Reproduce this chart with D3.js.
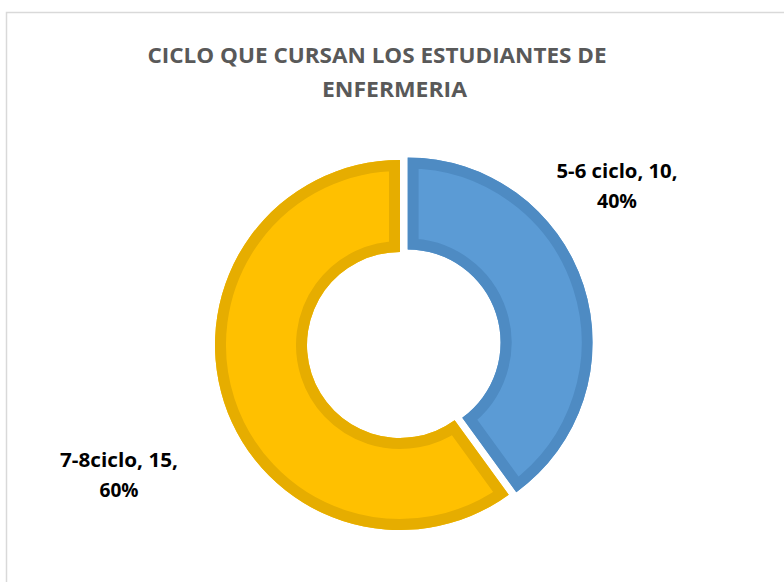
<!DOCTYPE html>
<html>
<head>
<meta charset="utf-8">
<script src="https://cdn.jsdelivr.net/npm/d3@7"></script>
<style>
  html, body { margin: 0; padding: 0; background: #fff; }
  svg { display: block; }
</style>
</head>
<body>
<svg id="chart" width="784" height="582"></svg>
<script>
// ---- data ----
const categories = ["5-6 ciclo", "7-8ciclo"];
const values = [10, 15];
const titleLines = ["CICLO QUE CURSAN LOS ESTUDIANTES DE", "ENFERMERIA"];

// ---- styles ----
const fills = ["#5B9BD5", "#FFC000"];
const strokes = ["#4E8BC3", "#E6AD00"];
const explode = [8, 0];

const svg = d3.select("#chart");
const W = 784, H = 582;
svg.append("rect").attr("width", W).attr("height", H).attr("fill", "#fff");
// chart frame
svg.append("rect").attr("x", 6.5).attr("y", 12.5).attr("width", 820).attr("height", 620)
  .attr("fill", "none").attr("stroke", "#D9D9D9").attr("stroke-width", 1.5);

// title
const title = svg.append("g").attr("font-family", "'Open Sans', sans-serif")
  .attr("font-weight", 700).attr("font-size", 22).attr("fill", "#595959");
const titlePos = [{x: 377, y: 63, w: 459}, {x: 394.5, y: 97, w: 145}];
titleLines.forEach((t, i) => {
  title.append("text").attr("x", titlePos[i].x).attr("y", titlePos[i].y)
    .attr("text-anchor", "middle")
    .attr("textLength", titlePos[i].w).attr("lengthAdjust", "spacingAndGlyphs")
    .text(t);
});

// donut
const cx = 400, cy = 345, R = 185, r = 93;
const pie = d3.pie().sort(null).value(d => d)(values);
const arc = d3.arc().innerRadius(r).outerRadius(R);
const g = svg.append("g").attr("transform", `translate(${cx},${cy})`);
const defs = svg.append("defs");
const total = d3.sum(values);

pie.forEach((p, i) => {
  const mid = (p.startAngle + p.endAngle) / 2;
  const dx = Math.sin(mid) * explode[i], dy = -Math.cos(mid) * explode[i];
  const sg = g.append("g").attr("transform", `translate(${dx},${dy})`);
  const d = arc(p);
  defs.append("clipPath").attr("id", "clip" + i).append("path").attr("d", d);
  sg.append("path").attr("d", d).attr("fill", fills[i]);
  sg.append("path").attr("d", d)
    .attr("fill", "none").attr("stroke", strokes[i]).attr("stroke-width", 22)
    .attr("stroke-linejoin", "miter")
    .attr("clip-path", `url(#clip${i})`);
});

// data labels
const labelPos = [
  {x: 617, y1: 178, y2: 208, w1: 121, w2: 40},
  {x: 119, y1: 467, y2: 497, w1: 118, w2: 39}
];
const lg = svg.append("g").attr("font-family", "'Open Sans', sans-serif")
  .attr("font-weight", 700).attr("font-size", 20).attr("fill", "#000");
categories.forEach((c, i) => {
  const pct = Math.round(values[i] / total * 100) + "%";
  lg.append("text").attr("x", labelPos[i].x).attr("y", labelPos[i].y1)
    .attr("text-anchor", "middle")
    .attr("textLength", labelPos[i].w1).attr("lengthAdjust", "spacingAndGlyphs")
    .text(`${c}, ${values[i]},`);
  lg.append("text").attr("x", labelPos[i].x).attr("y", labelPos[i].y2)
    .attr("text-anchor", "middle")
    .attr("textLength", labelPos[i].w2).attr("lengthAdjust", "spacingAndGlyphs")
    .text(pct);
});
</script>
</body>
</html>
